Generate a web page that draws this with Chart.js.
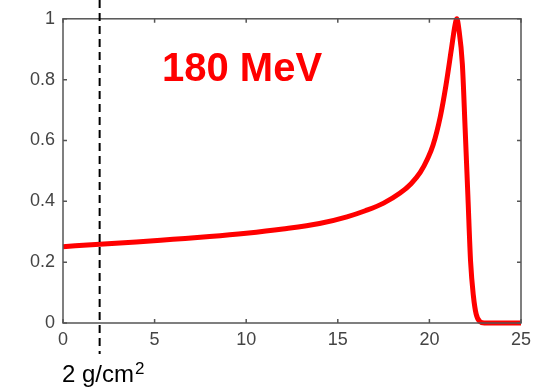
<!DOCTYPE html>
<html>
<head>
<meta charset="utf-8">
<script src="https://cdn.jsdelivr.net/npm/chart.js@4.4.1/dist/chart.umd.min.js"></script>
<style>
  html, body { margin: 0; padding: 0; background: #fff; }
</style>
</head>
<body>
<canvas id="bragg" width="540" height="390"></canvas>
<script>
// depth in water (g/cm2) and relative dose
const depth = [0, 2, 4, 6, 8, 10, 12, 14, 15.5, 16.5, 17.5, 18.4, 19.0, 19.5, 19.9, 20.2, 20.6, 20.9, 21.2, 21.4, 21.5, 21.6, 21.8, 21.95, 22.1, 22.25, 22.4, 22.55, 22.75, 23, 25];
const dose  = [0.251, 0.259, 0.266, 0.275, 0.284, 0.295, 0.309, 0.327, 0.349, 0.369, 0.394, 0.427, 0.458, 0.495, 0.54, 0.585, 0.68, 0.78, 0.9, 0.98, 1.0, 0.97, 0.85, 0.64, 0.42, 0.2, 0.09, 0.03, 0.005, 0, 0];
const xTicks = [0, 5, 10, 15, 20, 25];
const yTicks = [0, 0.2, 0.4, 0.6, 0.8, 1];
const energyLabel = '180 MeV';
const markDepth = 2;

const axisColor = '#555';
const tickFont = { family: 'Liberation Sans, Arial, sans-serif', size: 18 };

// frame, inward ticks, dashed marker and the labels
const extras = {
    id: 'extras',
    afterDraw(chart) {
        const ctx = chart.ctx;
        const a = chart.chartArea;
        const xs = chart.scales.x, ys = chart.scales.y;
        ctx.save();
        ctx.strokeStyle = axisColor;
        ctx.lineWidth = 1.5;
        ctx.strokeRect(a.left, a.top, a.right - a.left, a.bottom - a.top);
        ctx.beginPath();
        xTicks.forEach(v => {
            const px = xs.getPixelForValue(v);
            ctx.moveTo(px, a.bottom); ctx.lineTo(px, a.bottom - 4);
            ctx.moveTo(px, a.top); ctx.lineTo(px, a.top + 4);
        });
        yTicks.forEach(v => {
            const py = ys.getPixelForValue(v);
            ctx.moveTo(a.left, py); ctx.lineTo(a.left + 4, py);
            ctx.moveTo(a.right, py); ctx.lineTo(a.right - 4, py);
        });
        ctx.stroke();

        // dashed line at 2 g/cm2
        const mx = xs.getPixelForValue(markDepth);
        ctx.strokeStyle = '#000';
        ctx.lineWidth = 2;
        ctx.setLineDash([8, 5]);
        ctx.beginPath();
        ctx.moveTo(mx, 0);
        ctx.lineTo(mx, 354);
        ctx.stroke();
        ctx.setLineDash([]);

        // labels
        ctx.fillStyle = '#000';
        ctx.textBaseline = 'alphabetic';
        ctx.font = '24px Liberation Sans, Arial, sans-serif';
        ctx.fillText('2 g/cm', 62, 382);
        const w = ctx.measureText('2 g/cm').width;
        ctx.font = '17px Liberation Sans, Arial, sans-serif';
        ctx.fillText('2', 62 + w + 1, 374);

        ctx.fillStyle = '#ff0000';
        ctx.font = 'bold 40px Liberation Sans, Arial, sans-serif';
        ctx.fillText(energyLabel, 162, 81);
        ctx.restore();
    }
};

new Chart(document.getElementById('bragg').getContext('2d'), {
    type: 'scatter',
    data: {
        datasets: [{
            data: depth.map((d, i) => ({ x: d, y: dose[i] })),
            showLine: true,
            borderColor: '#ff0000',
            backgroundColor: '#ff0000',
            borderWidth: 5,
            pointRadius: 0,
            cubicInterpolationMode: 'monotone',
            clip: 8
        }]
    },
    options: {
        responsive: false,
        animation: false,
        devicePixelRatio: 1,
        layout: { padding: { top: 15, right: 19, left: 0, bottom: 0 } },
        plugins: { legend: { display: false }, tooltip: { enabled: false } },
        scales: {
            x: {
                type: 'linear',
                min: 0, max: 25,
                afterBuildTicks: s => { s.ticks = xTicks.map(v => ({ value: v })); },
                afterFit: s => { s.height = 67; },
                grid: { display: false, drawTicks: false },
                border: { display: false },
                ticks: { color: '#444', font: tickFont, padding: 6, maxRotation: 0, autoSkip: false, callback: v => String(v) }
            },
            y: {
                min: 0, max: 1,
                afterBuildTicks: s => { s.ticks = yTicks.map(v => ({ value: v })); },
                afterFit: s => { s.width = 63; },
                grid: { display: false, drawTicks: false },
                border: { display: false },
                ticks: { color: '#444', font: tickFont, padding: 8, autoSkip: false, callback: v => String(v) }
            }
        }
    },
    plugins: [extras]
});
</script>
</body>
</html>
